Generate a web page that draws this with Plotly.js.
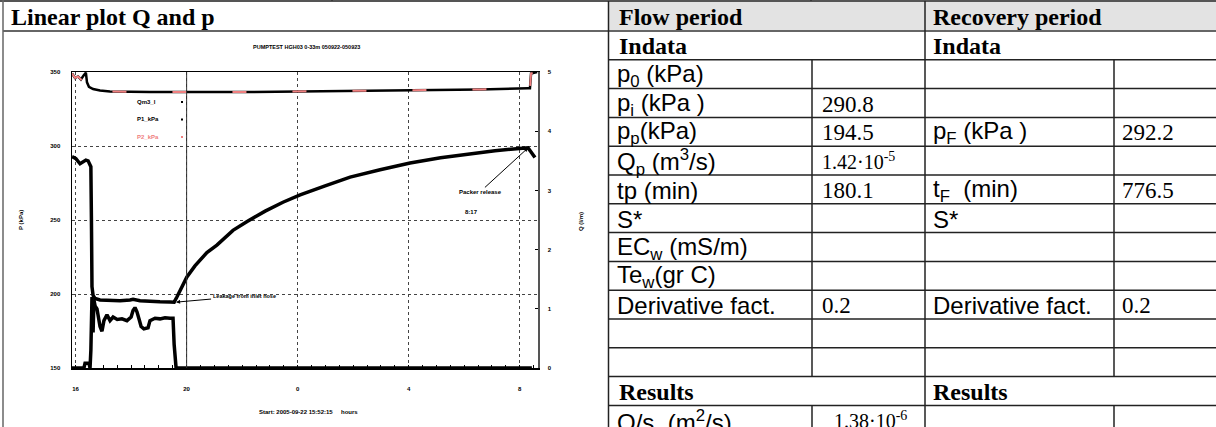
<!DOCTYPE html>
<html><head><meta charset="utf-8">
<script src="https://cdn.plot.ly/plotly-3.0.1.min.js"></script>
<style>html,body{margin:0;padding:0;background:#fff;} #chart{width:1216px;height:427px;}</style>
</head><body><div id="chart"></div>
<script>
// ---------- chart data (hours of day, continuing past midnight) ----------
const timeP1 = [15.87,16.01,16.16,16.27,16.37,16.45,16.52,16.55,16.57,16.59,16.63,16.70,16.88,17.24,17.60,17.96,18.07,18.32,18.68,19.04,19.40,19.55,
  19.65,19.76,20.01,20.30,20.73,21.09,21.67,22.18,22.83,23.47,24.09,24.99,25.89,26.97,28.05,29.15,30.10,31.11,32.09,32.30,32.41,32.55];
const presP1 = [292.8,291.5,288,289,290.5,290,287.5,286,250,205,199,197,196,195.5,195.5,196,196.5,195.5,195,194.8,194.6,194.5,
  198,202.5,211.5,219,228,233,243,249,256,262,267,273,279,284,288.5,292,294.5,296.8,298.5,298.7,296,292.2];
const timeQ = [15.87,16.30,16.34,16.48,16.52,16.55,16.59,16.63,16.66,16.70,16.77,16.88,16.95,17.02,17.13,17.24,17.35,17.50,17.67,17.85,18.00,18.07,18.14,18.21,18.29,18.36,18.46,18.61,18.68,18.86,19.04,19.22,19.40,19.51,19.55,19.58,19.62,32.44];
const flowQ = [0,0,0.08,0.08,0,0.3,1.2,0.6,1.15,1.05,1.0,0.7,0.62,0.8,0.9,0.8,0.86,0.82,0.83,0.8,0.86,0.97,1.02,0.95,0.82,0.7,0.66,0.68,0.8,0.84,0.83,0.85,0.84,0.84,0.4,0.1,0,0];
const timeP2 = [15.87,15.98,16.09,16.19,16.30,16.37,16.41,16.48,16.63,16.88,17.24,18.68,22.28,25.17,28.05,30.57,32.30,32.37,32.41,32.63];
const presP2 = [349,346,347,345,348,349.5,343,340,338.5,337.5,336.8,336.5,336.5,337,337.5,338.2,339,339,349,350];
const xTickVals = [16,20,24,28,32];
const xTickText = ["16","20","0","4","8"];
const pTickVals = [150,200,250,300,350];
const qTickVals = [0,1,2,3,4,5];
const seriesNames = ["Qm3_l","P1_kPa","P2_kPa"];

// ---------- table data ----------
const flowLabels = ["p<sub>0</sub> (kPa)","p<sub>i</sub> (kPa )","p<sub>p</sub>(kPa)","Q<sub>p</sub> (m<sup>3</sup>/s)","tp (min)","S*","EC<sub>w</sub> (mS/m)","Te<sub>w</sub>(gr C)","Derivative fact.","",""];
const flowValues = ["","290.8","194.5","1.42·10<sup>-5</sup>","180.1","","","","0.2","",""];
const recoveryLabels = ["","","p<sub>F</sub> (kPa )","","t<sub>F</sub>&nbsp; (min)","S*","","","Derivative fact.","",""];
const recoveryValues = ["","","292.2","","776.5","","","","0.2","",""];
const resultLabels = ["Q/s&nbsp; (m<sup>2</sup>/s)"];
const resultValues = ["1.38·10<sup>-6</sup>"];

// ---------- geometry helpers ----------
const W = 1216, H = 427;
const px = x => x / W;
const py = y => 1 - y / H;
const SANS = "Liberation Sans, Arial, sans-serif";
const SERIF = "Liberation Serif, Times New Roman, serif";
const CF = {family: SANS, size: 6, color: "#000", weight: "bold"};

const traces = [
  {x: timeP2, y: presP2, type: "scatter", mode: "lines", line: {color: "#000", width: 2.5}, yaxis: "y", hoverinfo: "skip"},
  {x: timeP2, y: presP2, type: "scatter", mode: "lines", line: {color: "#f08080", width: 2, dash: "14px,46px"}, yaxis: "y", hoverinfo: "skip"},
  {x: timeP1, y: presP1, type: "scatter", mode: "lines", line: {color: "#000", width: 3.5}, yaxis: "y", hoverinfo: "skip"},
  {x: timeQ, y: flowQ, type: "scatter", mode: "lines", line: {color: "#000", width: 3.5}, yaxis: "y2", hoverinfo: "skip"}
];

const shapes = [];
const ann = [];
function hline(y, x0, x1, color, w) { shapes.push({type: "line", xref: "paper", yref: "paper", x0: px(x0), x1: px(x1), y0: py(y), y1: py(y), line: {color: color, width: w}}); }
function vline(x, y0, y1, color, w) { shapes.push({type: "line", xref: "paper", yref: "paper", x0: px(x), x1: px(x), y0: py(y0), y1: py(y1), line: {color: color, width: w}}); }
function text(t, x, y, font, anchor) { ann.push({text: t, xref: "paper", yref: "paper", x: px(x), y: py(y), xanchor: anchor || "left", yanchor: "middle", showarrow: false, font: font, borderpad: 0}); }

// ---------- document / table frame ----------
shapes.push({type: "rect", xref: "paper", yref: "paper", x0: px(608.5), x1: px(1216), y0: py(1), y1: py(31), fillcolor: "#e3e3e3", line: {width: 0}, layer: "below"});
hline(1, 0, 1216, "#555", 2);
hline(31, 3, 1216, "#666", 2);
vline(3, 0, 427, "#666", 1.5);
vline(332, 0, 1, "#333", 1.5);
vline(811, 0, 1, "#333", 1.5);
const ROW0 = 31, RH = 28.8;
const rowTop = k => ROW0 + RH * k; // k=0 Indata row
for (let k = 1; k <= 13; k++) hline(rowTop(k), 608.5, 1216, "#222", 1.5);
vline(608.5, 1, 427, "#222", 1.5);
vline(925, 1, 427, "#222", 1.5);
vline(812, rowTop(1), rowTop(12), "#222", 1.5);
vline(1114, rowTop(1), rowTop(12), "#222", 1.5);
vline(812, rowTop(13), 427, "#222", 1.5);
vline(1114, rowTop(13), 427, "#222", 1.5);

const HF = {family: SERIF, size: 24, color: "#000"};
const LF = {family: SANS, size: 24, color: "#000"};
const VF = {family: SERIF, size: 23, color: "#000"};
const VFs = {family: SERIF, size: 20, color: "#000"};
text("<b>Linear plot Q and p</b>", 10, 17, HF);
text("<b>Flow period</b>", 618, 17, HF);
text("<b>Recovery period</b>", 932, 17, HF);
text("<b>Indata</b>", 618, rowTop(0) + RH / 2 + 1, HF);
text("<b>Indata</b>", 932, rowTop(0) + RH / 2 + 1, HF);
for (let i = 0; i < flowLabels.length; i++) {
  const yc = rowTop(i + 1) + RH / 2 + 1;
  if (flowLabels[i]) text(flowLabels[i], 616, yc, LF);
  if (flowValues[i]) text(flowValues[i], 821, yc - (flowValues[i].includes("sup") ? 1 : 0), flowValues[i].includes("sup") ? VFs : VF);
  if (recoveryLabels[i]) text(recoveryLabels[i], 932, yc, LF);
  if (recoveryValues[i]) text(recoveryValues[i], 1121, yc, VF);
}
text("<b>Results</b>", 618, rowTop(12) + RH / 2 + 1, HF);
text("<b>Results</b>", 932, rowTop(12) + RH / 2 + 1, HF);
text(resultLabels[0], 616, rowTop(13) + RH / 2 + 1, LF);
text(resultValues[0], 833, rowTop(13) + RH / 2, VFs);

// ---------- embedded chart decorations ----------
text("PUMPTEST HGH03 0-33m 050922-050923", 306, 47, {family: SANS, size: 5.5, color: "#000", weight: "bold"}, "center");
ann.push({text: "P (kPa)", xref: "paper", yref: "paper", x: px(21), y: py(220), textangle: -90, showarrow: false, font: CF, xanchor: "center", yanchor: "middle"});
ann.push({text: "Q (l/m)", xref: "paper", yref: "paper", x: px(581), y: py(222), textangle: -90, showarrow: false, font: CF, xanchor: "center", yanchor: "middle"});
text("Start: 2005-09-22 15:52:15", 258, 412, CF);
text("hours", 340, 412, CF);
// legend (inside plot)
const legColors = ["#000", "#000", "#f08080"];
for (let i = 0; i < seriesNames.length; i++) {
  const yy = 102 + i * 17.5;
  text(seriesNames[i], 136, yy, {family: SANS, size: 6, color: legColors[i], weight: "bold"});
  shapes.push({type: "rect", xref: "paper", yref: "paper", x0: px(181), x1: px(183), y0: py(yy - 1), y1: py(yy + 1), fillcolor: legColors[i], line: {width: 0}});
}
// annotations with arrows
ann.push({text: "Leakage from inlet hose", x: 19.62, y: 194.5, xref: "x", yref: "y", ax: 68, ay: -6, showarrow: true, arrowhead: 2, arrowsize: 0.8, arrowwidth: 1, arrowcolor: "#000", font: {family: SANS, size: 5.5, color: "#000", weight: "bold"}, xanchor: "center"});
ann.push({text: "Packer release", x: 32.30, y: 298.7, xref: "x", yref: "y", ax: -48, ay: 44, showarrow: true, arrowhead: 2, arrowsize: 0.8, arrowwidth: 1, arrowcolor: "#000", font: CF});
text("8:17", 464, 212, CF);
// solid line at 20 h
shapes.push({type: "line", xref: "x", yref: "paper", x0: 20, x1: 20, y0: py(368), y1: py(72), line: {color: "#333", width: 1}});

const layout = {
  width: W, height: H,
  margin: {l: 0, r: 0, t: 0, b: 0, pad: 0},
  paper_bgcolor: "#fff", plot_bgcolor: "#fff",
  showlegend: false,
  xaxis: {domain: [px(72), px(538)], range: [15.87, 32.66], tickmode: "array", tickvals: xTickVals, ticktext: xTickText,
    showgrid: true, gridcolor: "#444", griddash: "dot", gridwidth: 1, zeroline: false,
    showline: true, linecolor: "#000", linewidth: 1.5, mirror: true, ticks: "", tickfont: CF, ticklabelstandoff: 14,
    minor: {dtick: 0.5, ticks: "inside", ticklen: 3, tickcolor: "#000", showgrid: false}},
  yaxis: {domain: [py(368), py(72)], range: [150, 350], tickmode: "array", tickvals: pTickVals,
    showgrid: true, gridcolor: "#444", griddash: "dot", gridwidth: 1, zeroline: false,
    showline: true, linecolor: "#000", linewidth: 1.5, ticks: "", tickfont: CF, ticklabelstandoff: 9},
  yaxis2: {overlaying: "y", side: "right", range: [0, 5], tickmode: "array", tickvals: qTickVals,
    showgrid: false, zeroline: false, showline: true, linecolor: "#555", linewidth: 1.5,
    ticks: "inside", ticklen: 3, tickcolor: "#000", tickfont: CF, ticklabelstandoff: 7},
  shapes: shapes,
  annotations: ann
};
Plotly.newPlot("chart", traces, layout, {staticPlot: true, displayModeBar: false});
</script></body></html>
